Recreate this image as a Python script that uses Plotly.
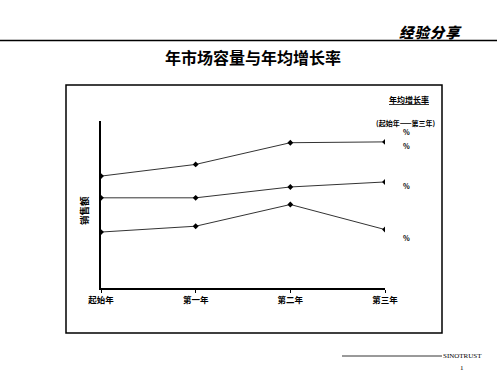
import plotly.graph_objects as go

categories = ["起始年", "第一年", "第二年", "第三年"]
series_top = [67, 74, 87, 87.5]
series_mid = [54, 54, 60.5, 63.5]
series_bot = [33.5, 37, 50, 35]
pct_labels = ["%", "%", "%", "%"]

W, H = 500, 375
CJK = "Noto Sans CJK SC"

def px(x):
    return x / W

def py(y):
    return 1 - y / H

fig = go.Figure()
for s in [series_top, series_mid, series_bot]:
    fig.add_trace(go.Scatter(
        x=list(range(len(categories))), y=s, mode="lines+markers",
        line=dict(color="#333333", width=1),
        marker=dict(symbol="diamond", size=4.5, color="black"),
        showlegend=False, hoverinfo="skip"))

fig.update_layout(
    template="none",
    width=W, height=H, margin=dict(l=0, r=0, t=0, b=0, pad=0),
    paper_bgcolor="white", plot_bgcolor="white",
    font=dict(family=CJK, color="black"),
    xaxis=dict(domain=[px(101), px(385)], range=[0, 3], automargin=False,
               tickvals=list(range(len(categories))), ticktext=categories,
               showline=True, linecolor="black", linewidth=1.5,
               ticks="outside", ticklen=3, tickcolor="black", tickwidth=1,
               showgrid=False, zeroline=False,
               tickfont=dict(family=CJK, size=8.5, color="black", weight="bold")),
    yaxis=dict(domain=[py(288), py(121)], range=[0, 100], automargin=False,
               showline=True, linecolor="black", linewidth=1.5,
               showticklabels=False, ticks="", showgrid=False, zeroline=False),
)

shapes = [
    dict(type="line", xref="paper", yref="paper", x0=0, x1=px(497), y0=py(40.5), y1=py(40.5),
         line=dict(color="black", width=1.5)),
    dict(type="rect", xref="paper", yref="paper", x0=px(66), x1=px(442), y0=py(333), y1=py(85),
         line=dict(color="black", width=1.5)),
    dict(type="line", xref="paper", yref="paper", x0=px(342), x1=px(442), y0=py(356), y1=py(356),
         line=dict(color="black", width=0.8)),
]
fig.update_layout(shapes=shapes)

ann = [
    dict(text="经\u200a验\u200a分\u200a享", x=px(430), y=py(31), font=dict(family=CJK, size=14.5, weight=900, style="italic")),
    dict(text="年市场容量与年均增长率", x=px(253), y=py(57), font=dict(family=CJK, size=16, weight="bold")),
    dict(text="<u>年均增长率</u>", x=px(409), y=py(99), font=dict(family=CJK, size=8, weight="bold")),
    dict(text="(起始年——第三年)", x=px(406), y=py(123), font=dict(family=CJK, size=7, weight="bold")),
    dict(text="销售额", x=px(84), y=py(211), textangle=-90, font=dict(family=CJK, size=9.5, weight="bold")),
    dict(text="SINOTRUST", x=px(462), y=py(356), font=dict(family="Liberation Serif", size=7)),
    dict(text="1", x=px(462), y=py(368), font=dict(family="Liberation Serif", size=7)),
]
for y, t in zip([132, 146, 186, 238], pct_labels):
    ann.append(dict(text=t, x=px(406), y=py(y), font=dict(family=CJK, size=7, weight="bold")))
for a in ann:
    a.update(xref="paper", yref="paper", showarrow=False, xanchor="center", yanchor="middle")
    a["font"]["color"] = "black"
fig.update_layout(annotations=ann)

fig.write_html("out.html")
